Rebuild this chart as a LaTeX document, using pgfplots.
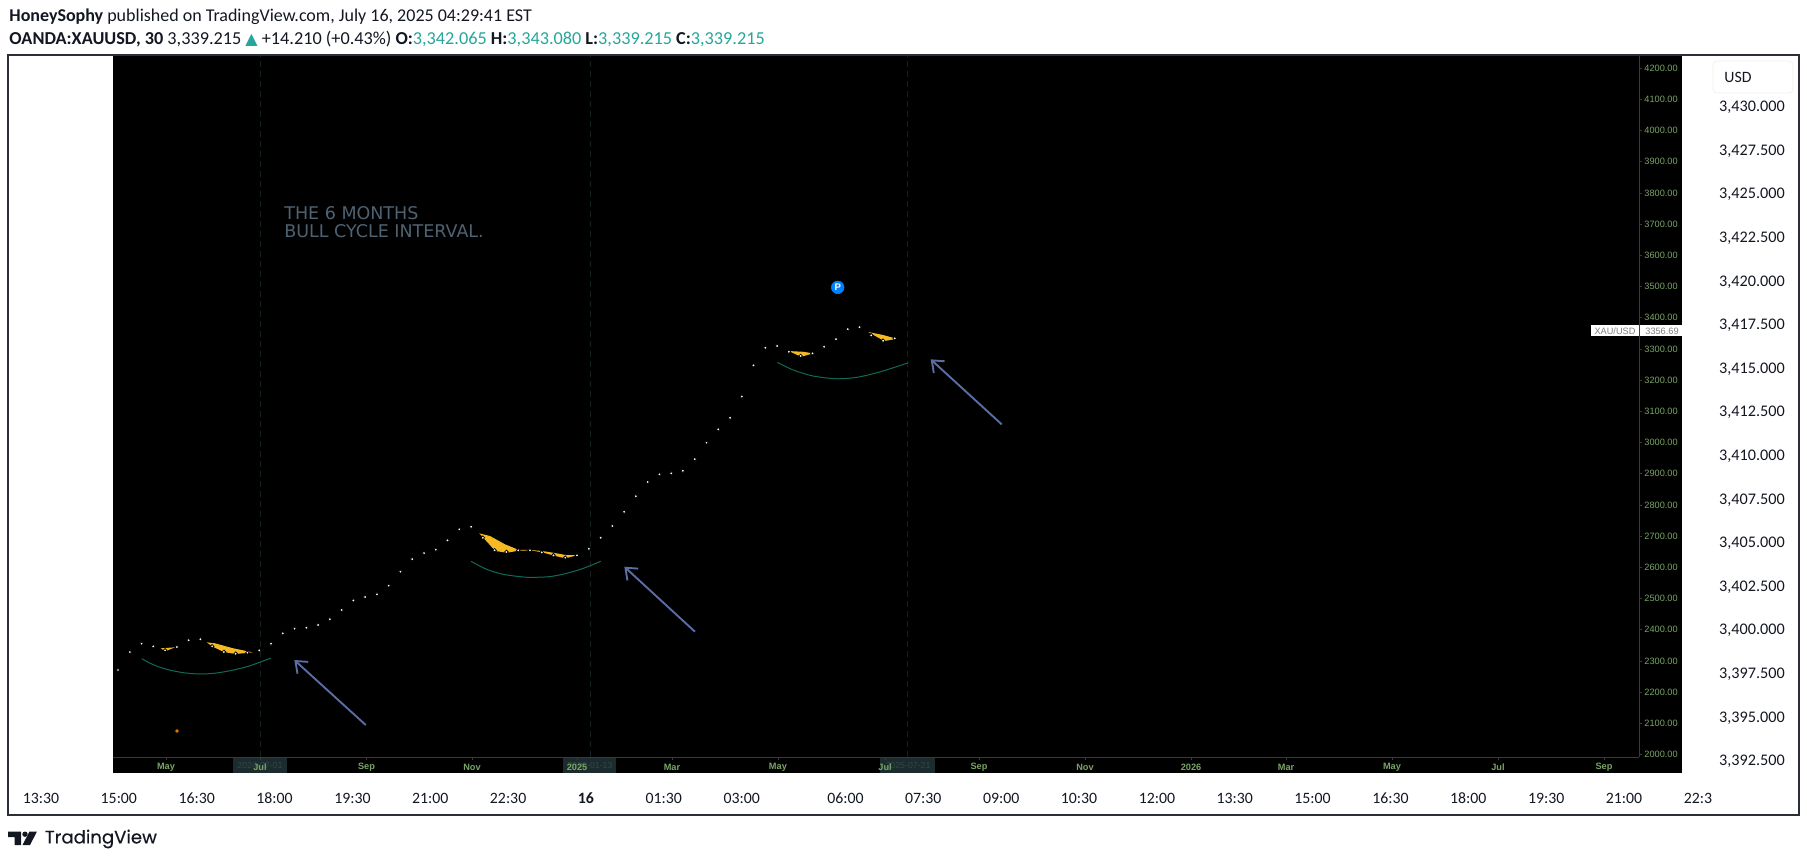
\documentclass[border=0pt]{standalone}
\usepackage{fontspec}
\usepackage{pgfplots}
\pgfplotsset{compat=1.18}
\usetikzlibrary{arrows.meta}
\setmainfont{Carlito}
\newfontfamily\arial{Liberation Sans}
\newfontfamily\dejavu{DejaVu Sans}
\newfontfamily\pop[FakeBold=0.35]{Poppins}
\definecolor{tvink}{HTML}{131722}
\definecolor{tvframe}{HTML}{2A2E39}
\definecolor{tvteal}{HTML}{26A69A}
\definecolor{ingreen}{HTML}{78A565}
\definecolor{inaxis}{HTML}{3A3A3A}
\definecolor{goldfill}{HTML}{F5B921}
\definecolor{arcgreen}{HTML}{0F6B58}
\definecolor{arrowblue}{HTML}{5A6DA6}
\definecolor{notegrey}{HTML}{4F6272}
\definecolor{datebox}{HTML}{1C2C2E}
\definecolor{datetext}{HTML}{314648}
\definecolor{cycleline}{HTML}{152020}

\pgfplotstableread{
i price
0 2270.6
1 2328.3
2 2354.9
3 2346.5
4 2333.7
5 2344.3
6 2365.8
7 2369.0
8 2346.5
9 2328.3
10 2322.8
11 2326.0
12 2333.7
13 2354.9
14 2388.2
15 2403.0
16 2406.2
17 2414.8
18 2433.1
19 2462.9
20 2493.3
21 2504.6
22 2513.2
23 2540.8
24 2585.6
25 2626.3
26 2645.6
27 2656.2
28 2686.3
29 2721.5
30 2729.9
31 2694.6
32 2654.2
33 2648.8
34 2654.2
35 2654.2
36 2647.8
37 2638.2
38 2630.5
39 2638.2
40 2659.4
41 2694.6
42 2732.1
43 2777.9
44 2827.3
45 2873.1
46 2897.8
47 2901.0
48 2909.3
49 2946.8
50 2999.1
51 3042.0
52 3079.2
53 3147.2
54 3247.2
55 3303.6
56 3309.0
57 3290.7
58 3277.0
59 3285.6
60 3306.8
61 3331.4
62 3363.5
63 3369.9
64 3343.3
65 3326.0
66 3333.7
}\weekly

\begin{document}
\begin{tikzpicture}
\useasboundingbox (0,0) rectangle (903.5pt,431pt);

% outer chart: price scale and time scale
\begin{axis}[
    at={(4pt,23.5pt)}, anchor=south west,
    scale only axis, width=895.5pt, height=380pt,
    xmin=-1.272, xmax=67.745,
    ymin=3389.40, ymax=3432.98,
    axis line style={draw=tvframe,line width=0.7pt},
    tick style={draw=none},
    ytick={3392.5,3395,...,3430},
    yticklabel pos=right,
    yticklabel style={anchor=east,xshift=-3.6pt,yshift=-0.3pt,text=tvink,font=\fontsize{8.1pt}{9pt}\selectfont,
        /pgf/number format/.cd,fixed,fixed zerofill,precision=3,1000 sep={,},assume math mode=true},
    xtick={0,3,6,9,12,15,18,21,24,27,31,34,37,40,43,46,49,52,55,58,61,63.85},
    xticklabels={13:30,15:00,16:30,18:00,19:30,21:00,22:30,\textbf{16},01:30,03:00,06:00,07:30,09:00,10:30,12:00,13:30,15:00,16:30,18:00,19:30,21:00,22:3},
    xticklabel style={anchor=center,yshift=8.4pt,text=tvink,font=\fontsize{7.9pt}{9pt}\selectfont},
]
\end{axis}

% black screenshot area, date tags under the inner tick labels
\fill[black] (56.5pt,44.5pt) rectangle (841pt,403.2pt);
\begin{scope}[x=0.5pt,y=-0.5pt,yshift=431pt]
\fill[datebox] (233,757) rectangle (287,773);
\fill[datebox] (562.5,757) rectangle (616,773);
\fill[datebox] (880,757) rectangle (935,773);
\node[text=datetext,font=\arial\fontsize{4.4pt}{5pt}\selectfont] at (260,765.5) {2024-07-01};
\node[text=datetext,font=\arial\fontsize{4.4pt}{5pt}\selectfont] at (590,765.5) {2025-01-13};
\node[text=datetext,font=\arial\fontsize{4.4pt}{5pt}\selectfont] at (908,765.5) {2025-07-21};
\end{scope}

% inner screenshot chart
\begin{axis}[
    at={(56.5pt,52.5pt)}, anchor=south west,
    scale only axis, width=763pt, height=350.7pt,
    xmin=-0.425, xmax=129.23,
    ymin=1991.75, ymax=4240.1,
    clip=false,
    axis x line=bottom, axis y line=right,
    axis line style={draw=inaxis,line width=0.4pt,-},
    tick style={draw=inaxis,line width=0.3pt},
    tick align=outside, major tick length=1.5pt,
    ytick={2000,2100,...,4200},
    yticklabel style={anchor=west,inner sep=0pt,xshift=1pt,text=ingreen,font=\arial\fontsize{4.6pt}{5pt}\selectfont,
        /pgf/number format/.cd,fixed,fixed zerofill,precision=2,1000 sep={},assume math mode=true},
    xtick={4.08,12.06,21.11,30.08,39,47.07,56.07,65.17,73.15,82.16,91.17,99.24,108.24,117.25,126.25},
    xticklabels={May,Jul,Sep,Nov,2025,Mar,May,Jul,Sep,Nov,2026,Mar,May,Jul,Sep},
    xticklabel style={anchor=center,inner sep=0pt,yshift=-3.7pt,text=ingreen,font=\arial\bfseries\fontsize{4.6pt}{5pt}\selectfont},
]
\addplot[cycleline,densely dashed,line width=0.4pt] coordinates {(12.06,1991.75)(12.06,4240)};
\addplot[cycleline,densely dashed,line width=0.4pt] coordinates {(40.1,1991.75)(40.1,4240)};
\addplot[cycleline,densely dashed,line width=0.4pt] coordinates {(67.1,1991.75)(67.1,4240)};

% gold fills
\addplot[fill=goldfill,draw=none] coordinates {(3.63,2340.1)(4.84,2343.3)(4.02,2330.5)} -- cycle;
\addplot[fill=goldfill,draw=none] coordinates {(7.54,2359.4)(7.99,2346.5)(8.98,2328.3)(10,2321.9)(11.44,2327.3)(9.8,2340.1)(8.24,2356.2)} -- cycle;
\addplot[fill=goldfill,draw=none] coordinates {(30.7,2708.7)(32.06,2652)(33.05,2646.5)(34.01,2652.9)(35.06,2654.2)(36.05,2647.8)(37.07,2636.9)(38,2628.6)(39,2638.2)(38.04,2639.2)(36.98,2646.5)(36.05,2652)(35.06,2655.2)(34.01,2656.2)(32.88,2673.5)(31.61,2700)} -- cycle;
\addplot[fill=goldfill,draw=none] coordinates {(56.98,3293)(58.05,3274.7)(59.07,3285.6)(58.22,3290.7)} -- cycle;
\addplot[fill=goldfill,draw=none] coordinates {(63.75,3353.9)(65.11,3325)(66.16,3332.4)(65.02,3344.3)} -- cycle;

% weekly closes
\addplot[only marks,mark=*,mark size=0.9pt,mark options={draw=none,fill=white}] table[x=i,y=price] {\weekly};

% arcs under the pullbacks
\addplot[arcgreen,smooth,line width=0.5pt] coordinates {(2.01,2306.8)(3,2287.6)(4.14,2272.8)(5.55,2262)(6.97,2257.8)(8.38,2261)(9.8,2270.6)(11.22,2284.4)(13,2309)};
\addplot[arcgreen,smooth,line width=0.5pt] coordinates {(29.99,2619)(31.33,2593.3)(32.74,2577.3)(34.44,2568.7)(35.29,2567.7)(36.7,2570)(38.12,2580.5)(39.53,2596.5)(41.01,2619)};
\addplot[arcgreen,smooth,line width=0.5pt] coordinates {(56.02,3256.8)(57.38,3232.1)(59.07,3212.9)(61.06,3204.2)(62.76,3208.7)(64.46,3223.4)(65.87,3239.5)(67.15,3255.5)};

% arrows
\addplot[arrowblue,line width=0.95pt,-{Straight Barb[length=5pt,width=8pt]}] coordinates {(21.05,2094.3)(14.98,2302.6)};
\addplot[arrowblue,line width=0.95pt,-{Straight Barb[length=5pt,width=8pt]}] coordinates {(49.02,2393.3)(43.02,2601.7)};
\addplot[arrowblue,line width=0.95pt,-{Straight Barb[length=5pt,width=8pt]}] coordinates {(75.08,3058.1)(69.05,3266.4)};

% single markers
\addplot[only marks,mark=*,mark size=1.1pt,mark options={draw=none,fill=orange!90!black}] coordinates {(5.01,2075.1)};
\addplot[only marks,mark=*,mark size=3.6pt,mark options={draw=none,fill=blue!50!cyan}] coordinates {(61.15,3497.1)};

\node[anchor=west,inner sep=0pt,text=notegrey,font=\dejavu\fontsize{8.75pt}{10pt}\selectfont] at (axis cs:14.1,3735.5) {THE 6 MONTHS};
\node[anchor=west,inner sep=0pt,text=notegrey,font=\dejavu\fontsize{8.75pt}{10pt}\selectfont] at (axis cs:14.1,3679) {BULL CYCLE INTERVAL.};
\end{axis}

% page furniture in reference pixels
\begin{scope}[x=0.5pt,y=-0.5pt,yshift=431pt]
\node[text=white,font=\arial\bfseries\fontsize{4.8pt}{5pt}\selectfont] at (837.7,287.3) {P};

\fill[white] (1591,325) rectangle (1682,336);
\draw[inaxis,line width=0.3pt] (1639,325) -- (1639,336);
\node[text=gray,font=\arial\fontsize{4.6pt}{5pt}\selectfont] at (1615,331) {XAU/USD};
\node[text=gray,font=\arial\fontsize{4.6pt}{5pt}\selectfont] at (1662,331) {3356.69};

\draw[black!6,fill=white,rounded corners=2pt,line width=0.4pt] (1713,61) rectangle (1793,93);
\node[anchor=west,inner sep=0pt,text=tvink,font=\fontsize{7.9pt}{9pt}\selectfont] at (1724,77) {USD};

\node[anchor=west,inner sep=0pt,text=tvink,font=\fontsize{9pt}{10pt}\selectfont] at (9,17)
  {\textbf{HoneySophy} published on TradingView.com, July 16, 2025 04:29:41 EST};
\node[anchor=west,inner sep=0pt,text=tvink,font=\fontsize{9.12pt}{10pt}\selectfont] at (9,39)
  {\textbf{OANDA:XAUUSD, 30} 3,339.215 \textcolor{tvteal}{\dejavu\fontsize{8pt}{8pt}\selectfont ▲} +14.210 (+0.43\%) \textbf{O:}\textcolor{tvteal}{3,342.065} \textbf{H:}\textcolor{tvteal}{3,343.080} \textbf{L:}\textcolor{tvteal}{3,339.215} \textbf{C:}\textcolor{tvteal}{3,339.215}};

% logo
\fill[tvink] (8,831.5) -- (21,831.5) -- (21,845) -- (14.5,845) -- (14.5,837) -- (8,837) -- cycle;
\fill[tvink] (25,834.2) circle (2.7);
\fill[tvink] (29.5,831.5) -- (37,831.5) -- (30,845) -- (22.5,845) -- cycle;
\node[anchor=west,inner sep=0pt,text=tvink,font=\pop\fontsize{9.05pt}{11pt}\selectfont] at (44.5,839) {TradingView};
\end{scope}
\end{tikzpicture}
\end{document}
